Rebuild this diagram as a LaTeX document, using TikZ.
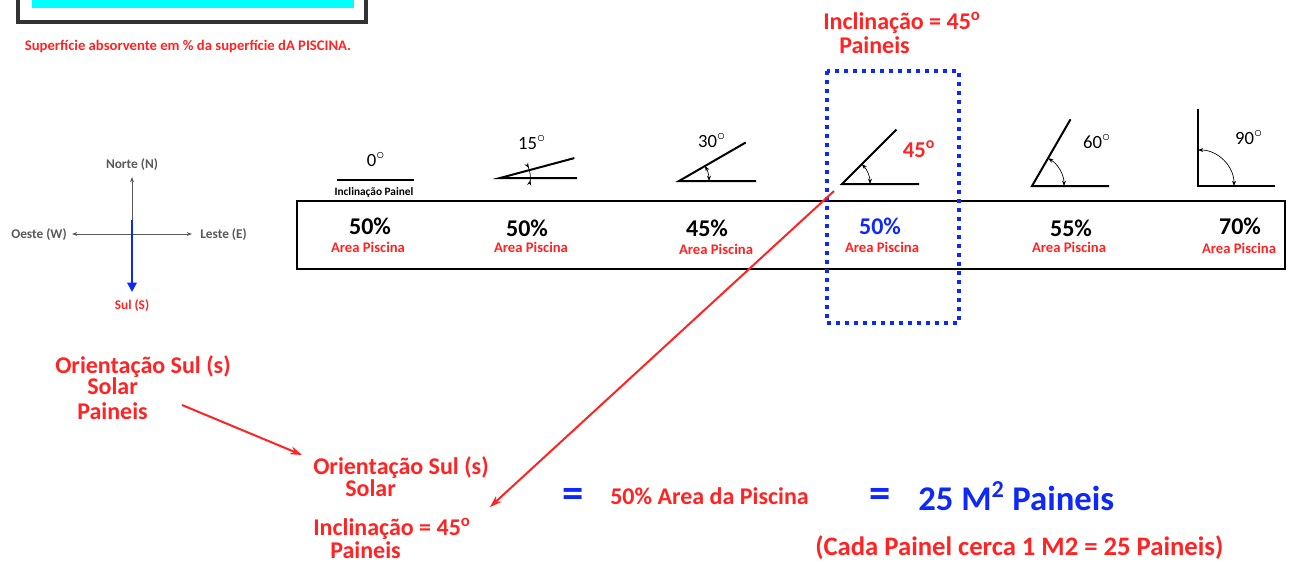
\documentclass[tikz,border=0pt]{standalone}
\usepackage{fontspec}
\setmainfont{Carlito}
\usetikzlibrary{calc}
\usetikzlibrary{arrows.meta}

\definecolor{vermelho}{RGB}{255,35,35}
\definecolor{azul}{RGB}{15,40,250}
\definecolor{ciano}{RGB}{0,255,255}

\begin{document}
\begin{tikzpicture}[x=0.75pt,y=-0.75pt,
  verm/.style={text=vermelho, font=\bfseries\fontsize{18}{20}\selectfont, inner sep=0pt, anchor=base west},
  pct/.style={font=\bfseries\fontsize{18}{20}\selectfont, inner sep=0pt, anchor=base},
  area/.style={text=vermelho, font=\bfseries\fontsize{11}{13}\selectfont, inner sep=0pt, anchor=base},
  grau/.style={font=\fontsize{14}{16}\selectfont, inner sep=0pt, anchor=base},
  card/.style={text=black!65, font=\bfseries\fontsize{10}{12}\selectfont, inner sep=0pt, anchor=base},
  igual/.style={text=azul, font=\bfseries\fontsize{32}{34}\selectfont, inner sep=0pt},
  seta/.style={draw=vermelho, line width=1.5pt, -{Stealth[length=9pt,width=6pt]}},
  arco/.style={line width=0.5pt, {Stealth[length=4pt,width=3pt]}-{Stealth[length=4pt,width=3pt]}},
  arcofora/.style={line width=0.5pt, {Stealth[reversed,length=4pt,width=3pt]}-{Stealth[reversed,length=4pt,width=3pt]}}
]
\useasboundingbox (0,0) rectangle (1294,562);

\def\painel(#1,#2,#3,#4){ % (x, y) do vertice, angulo e raio do arco (0 = sem arco)
\begin{scope}[shift={(#1,#2)}] %o zero passa a ser o vertice
%Base e painel inclinado
\draw[line width=1.5pt] (77,0) -- (0,0) -- (-#3:77);
%Arco do angulo
\ifnum#4>0 \draw[arco] (#4,0) arc[start angle=0, end angle=-#3, radius=#4]; \fi
\end{scope}}

%Quadro da piscina (cortado em cima)
\fill[ciano] (32,-20) rectangle (354,8);
\draw[black!80, line width=2.5pt] (18,-20) rectangle (366,22);
\node[text=vermelho, font=\bfseries\fontsize{11}{13}\selectfont, inner sep=0pt, anchor=base] (legenda) at (188,50) {Superfície absorvente em \% da superfície dA PISCINA.};

%Bussola
\coordinate (meio) at (132,220);
\coordinate (norte) at (132,177);
\coordinate (sul) at (132,292);
\coordinate (oeste) at (72,234);
\coordinate (leste) at (192,234);
\draw[black!65, line width=0.75pt, -{Stealth[length=4pt,width=3pt]}] (meio) -- (norte);
\draw[black!65, line width=0.75pt, {Stealth[length=4pt,width=3pt]}-{Stealth[length=4pt,width=3pt]}] (oeste) -- (leste);
\draw[azul, line width=1.5pt, -{Triangle[length=7pt,width=7pt]}] (meio) -- (sul);
\node[card] (tN) at (132,168) {Norte (N)};
\node[card] (tW) at (39,238) {Oeste (W)};
\node[card, anchor=base west] (tE) at (200,238) {Leste (E)};
\node[card, text=vermelho] (tS) at (132,309) {Sul (S)};

%Tabela
\draw[line width=1.5pt] (297,201) rectangle (1285,269);

%Paineis inclinados
\draw[line width=1.5pt] (337,180) -- (414,180);
\painel(500,178,15,0)
\draw[arcofora] (500,178) ++(14:30) arc[start angle=14, end angle=-29, radius=30];
\painel(679,181,30,30)
\painel(842,184,45,28)
\painel(1032,186,60,32)
\painel(1198,186,90,36)

%Angulos
\node[grau] (g0) at (376,166) {0\textsuperscript{\large$\circ$}};
\node[grau] (g15) at (532,149) {15\textsuperscript{\large$\circ$}};
\node[grau] (g30) at (712,147) {30\textsuperscript{\large$\circ$}};
\node[verm, font=\bfseries\fontsize{17}{19}\selectfont, anchor=base] (g45) at (919,157) {45\textsuperscript{o}};
\node[grau] (g60) at (1097,148) {60\textsuperscript{\large$\circ$}};
\node[grau] (g90) at (1249,144) {90\textsuperscript{\large$\circ$}};
\node[font=\bfseries\fontsize{8.5}{10}\selectfont, inner sep=0pt, anchor=base] (inclP) at (374,195) {Inclinação Painel};

%Percentagens
\node[pct] (p1) at (370,234) {50\%};
\node[area] (a1) at (368,252) {Area Piscina};
\node[pct] (p2) at (527,236) {50\%};
\node[area] (a2) at (531,252) {Area Piscina};
\node[pct] (p3) at (707,236) {45\%};
\node[area] (a3) at (716,254) {Area Piscina};
\node[pct, text=azul] (p4) at (880,234) {50\%};
\node[area] (a4) at (882,252) {Area Piscina};
\node[pct] (p5) at (1071,236) {55\%};
\node[area] (a5) at (1069,252) {Area Piscina};
\node[pct] (p6) at (1240,234) {70\%};
\node[area] (a6) at (1239,253) {Area Piscina};

%Destaque dos 45 graus
\draw[azul, line width=3pt, dash pattern=on 3pt off 3.75pt] (827,71) rectangle (959,323);
\node[verm] (inclA) at (823,29) {Inclinação = 45\textsuperscript{o}};
\node[verm] (painA) at (839,53) {Paineis};

%Orientacao (esquerda)
\node[verm] (oriA) at (55,373) {Orientação Sul (s)};
\node[verm] (solA) at (87,394) {Solar};
\node[verm] (painB) at (77,419) {Paineis};

%Resultado
\node[verm] (oriB) at (313,474) {Orientação Sul (s)};
\node[verm] (solB) at (345,496) {Solar};
\node[verm] (inclB) at (313,535) {Inclinação = 45\textsuperscript{o}};
\node[verm] (painC) at (330,558) {Paineis};
\node[igual] (ig1) at (573,498) {=};
\node[verm] (res1) at (610,504) {50\% Area da Piscina};
\node[igual] (ig2) at (880,498) {=};
\node[verm, text=azul, font=\bfseries\fontsize{26}{28}\selectfont] (res2) at (918,510) {25 M\textsuperscript{2} Paineis};
\node[verm, font=\bfseries\fontsize{20}{22}\selectfont] (cada) at (815,555) {(Cada Painel cerca 1 M2 = 25 Paineis)};

%Setas vermelhas
\coordinate (iniA) at (182,405);
\coordinate (fimA) at (302,455);
\coordinate (ini45) at (834,191);
\coordinate (fim45) at (490,507);
\draw[seta] (iniA) -- (fimA);
\draw[seta] (ini45) -- (fim45);

\end{tikzpicture}
\end{document}
